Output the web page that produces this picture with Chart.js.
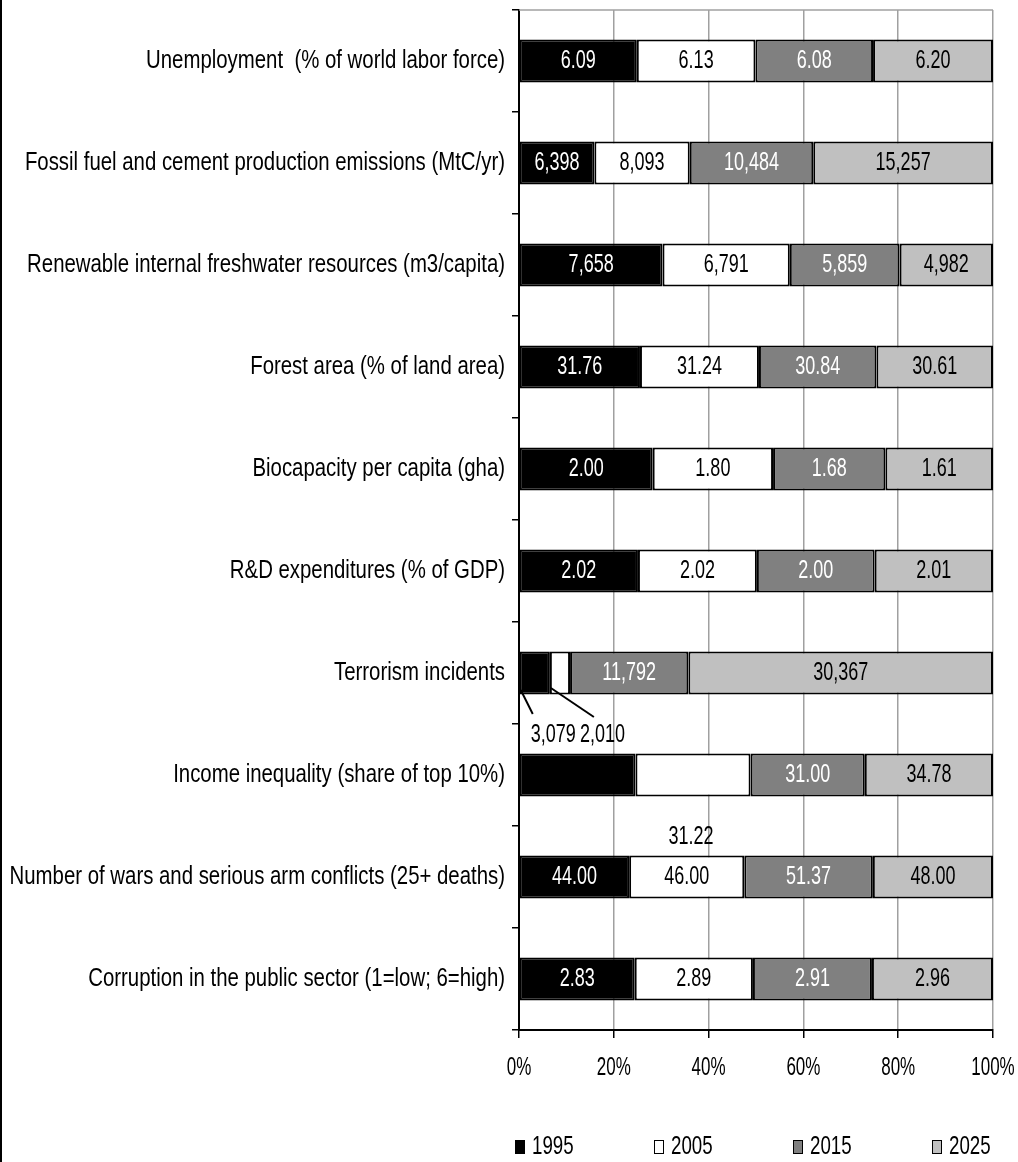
<!DOCTYPE html>
<html>
<head>
<meta charset="utf-8">
<script src="https://cdn.jsdelivr.net/npm/chart.js@4.4.1/dist/chart.umd.min.js"></script>
<style>
    html, body { margin: 0; padding: 0; background: #fff; }
    #wrap { width: 1018px; height: 1162px; position: relative; }
</style>
</head>
<body>
<div id="wrap"><canvas id="cl_chart" width="1018" height="1162"></canvas></div>
<script>
// categories, top to bottom
var categories = [
    "Unemployment  (% of world labor force)",
    "Fossil fuel and cement production emissions (MtC/yr)",
    "Renewable internal freshwater resources (m3/capita)",
    "Forest area (% of land area)",
    "Biocapacity per capita (gha)",
    "R&D expenditures (% of GDP)",
    "Terrorism incidents",
    "Income inequality (share of top 10%)",
    "Number of wars and serious arm conflicts (25+ deaths)",
    "Corruption in the public sector (1=low; 6=high)"
];
var years = ["1995", "2005", "2015", "2025"];

// raw values per year (1995 income inequality is not labelled)
var v1995 = [6.09, 6398, 7658, 31.76, 2.00, 2.02, 3079, 31.6, 44.00, 2.83];
var v2005 = [6.13, 8093, 6791, 31.24, 1.80, 2.02, 2010, 31.22, 46.00, 2.89];
var v2015 = [6.08, 10484, 5859, 30.84, 1.68, 2.00, 11792, 31.00, 51.37, 2.91];
var v2025 = [6.20, 15257, 4982, 30.61, 1.61, 2.01, 30367, 34.78, 48.00, 2.96];
var decimals = [2, 0, 0, 2, 2, 2, 0, 2, 2, 2];

var xTicks = [0, 20, 40, 60, 80, 100];

var fillColors = ["#000000", "#ffffff", "#808080", "#c0c0c0"];
var labelColors = ["#ffffff", "#000000", "#ffffff", "#000000"];

var FONT = '"Liberation Sans", Arial, sans-serif';
Chart.defaults.font.family = FONT;
Chart.defaults.color = "#000";

var allValues = [v1995, v2005, v2015, v2025];
var totals = categories.map(function (c, i) {
    return v1995[i] + v2005[i] + v2015[i] + v2025[i];
});

// labels that sit away from their bar (dataset:index); left = text left edge from bar base
var special = {
    "0:6": { left: 11, dy: 62, line: [1, 17, 13, 41] },
    "1:6": { left: 30, dy: 62, line: [1, 15, 44, 44] },
    "1:7": { dx: -2, dy: 62, color: "#000" },
    "0:7": { hidden: true }
};

function fmt(v, d) {
    return v.toLocaleString("en-US", { minimumFractionDigits: d, maximumFractionDigits: d });
}

// the original uses a tall narrow face, so squeeze the text horizontally
function narrowText(ctx, text, x, y, align, size, sx) {
    ctx.save();
    ctx.font = size + "px " + FONT;
    ctx.textAlign = align;
    ctx.textBaseline = "middle";
    ctx.translate(x, y);
    ctx.scale(sx, 1);
    ctx.fillText(text, 0, 0);
    ctx.restore();
}

var labelPlugin = {
    id: "barLabels",
    beforeDatasetsDraw: function (chart) {
        var ctx = chart.ctx, a = chart.chartArea;
        ctx.save();
        // plot top border
        ctx.strokeStyle = "#a0a0a0";
        ctx.lineWidth = 1.5;
        ctx.beginPath();
        ctx.moveTo(a.left, a.top);
        ctx.lineTo(a.right, a.top);
        ctx.stroke();
        ctx.restore();
    },
    afterDatasetsDraw: function (chart) {
        var ctx = chart.ctx;
        chart.data.datasets.forEach(function (ds, di) {
            var meta = chart.getDatasetMeta(di);
            meta.data.forEach(function (bar, i) {
                var sp = special[di + ":" + i];
                if (sp && sp.hidden) return;
                var cx = (bar.x + bar.base) / 2, cy = bar.y;
                var text = fmt(allValues[di][i], decimals[i]);
                if (!sp) {
                    ctx.fillStyle = labelColors[di];
                    narrowText(ctx, text, cx, cy, "center", 25, 0.72);
                    return;
                }
                ctx.fillStyle = sp.color || "#000";
                if (sp.left !== undefined) {
                    // leader line from inside the bar down to the label
                    ctx.save();
                    ctx.strokeStyle = "#000";
                    ctx.lineWidth = 2;
                    ctx.beginPath();
                    ctx.moveTo(bar.base + sp.line[0], cy + sp.line[1]);
                    ctx.lineTo(bar.base + sp.line[2], cy + sp.line[3]);
                    ctx.stroke();
                    ctx.restore();
                    narrowText(ctx, text, bar.base + sp.left, cy + sp.dy, "left", 25, 0.72);
                } else {
                    narrowText(ctx, text, cx + sp.dx, cy + sp.dy, "center", 25, 0.72);
                }
            });
        });
    },
    afterDraw: function (chart) {
        var ctx = chart.ctx, a = chart.chartArea;
        var xs = chart.scales.x, ys = chart.scales.y;
        ctx.save();
        ctx.fillStyle = "#000";
        // left frame line
        ctx.fillRect(0, 0, 2, chart.height);
        // category labels
        categories.forEach(function (c, i) {
            narrowText(ctx, c, a.left - 14, ys.getPixelForTick(i), "right", 25, 0.815);
        });
        // x tick labels
        xTicks.forEach(function (v) {
            narrowText(ctx, v + "%", xs.getPixelForValue(v), a.bottom + 38, "center", 25, 0.68);
        });
        // legend
        var ly = 1147;
        chart.data.datasets.forEach(function (ds, di) {
            var bx = a.left - 4 + di * 139;
            ctx.fillStyle = ds.backgroundColor;
            ctx.fillRect(bx, ly - 7, 10, 14);
            ctx.strokeStyle = "#000";
            ctx.lineWidth = 1;
            ctx.strokeRect(bx + 0.5, ly - 6.5, 9, 13);
            ctx.fillStyle = "#000";
            narrowText(ctx, ds.label, bx + 17, ly, "left", 26, 0.72);
        });
        ctx.restore();
    }
};

var mainchart = new Chart("cl_chart", {
    type: "bar",
    data: {
        labels: categories,
        datasets: years.map(function (y, di) {
            return {
                label: y,
                data: allValues[di].map(function (v, i) { return v / totals[i] * 100; }),
                backgroundColor: fillColors[di],
                borderColor: "#000",
                borderWidth: 2,
                borderSkipped: false,
                barPercentage: 0.42,
                categoryPercentage: 1.0
            };
        })
    },
    options: {
        indexAxis: "y",
        responsive: false,
        animation: false,
        layout: { padding: { top: 10, right: 25, bottom: 72, left: 0 } },
        plugins: {
            legend: { display: false },
            tooltip: { enabled: false }
        },
        scales: {
            x: {
                stacked: true,
                min: 0,
                max: 100,
                afterBuildTicks: function (s) {
                    s.ticks = xTicks.map(function (v) { return { value: v }; });
                },
                ticks: { display: false },
                grid: { color: "#a0a0a0", tickColor: "#000", tickLength: 8, lineWidth: 1.5 },
                border: { color: "#000", width: 2 },
                afterFit: function (s) {
                    s.height = 60;
                    s.paddingLeft = 0;
                    s.paddingRight = 0;
                }
            },
            y: {
                stacked: true,
                ticks: { display: false, autoSkip: false },
                grid: { drawOnChartArea: false, offset: true, color: "#000", tickLength: 7, lineWidth: 1.5 },
                border: { color: "#000", width: 2 },
                afterFit: function (s) {
                    s.width = 519;
                    s.paddingTop = 0;
                    s.paddingBottom = 0;
                }
            }
        }
    },
    plugins: [labelPlugin]
});
</script>
</body>
</html>
